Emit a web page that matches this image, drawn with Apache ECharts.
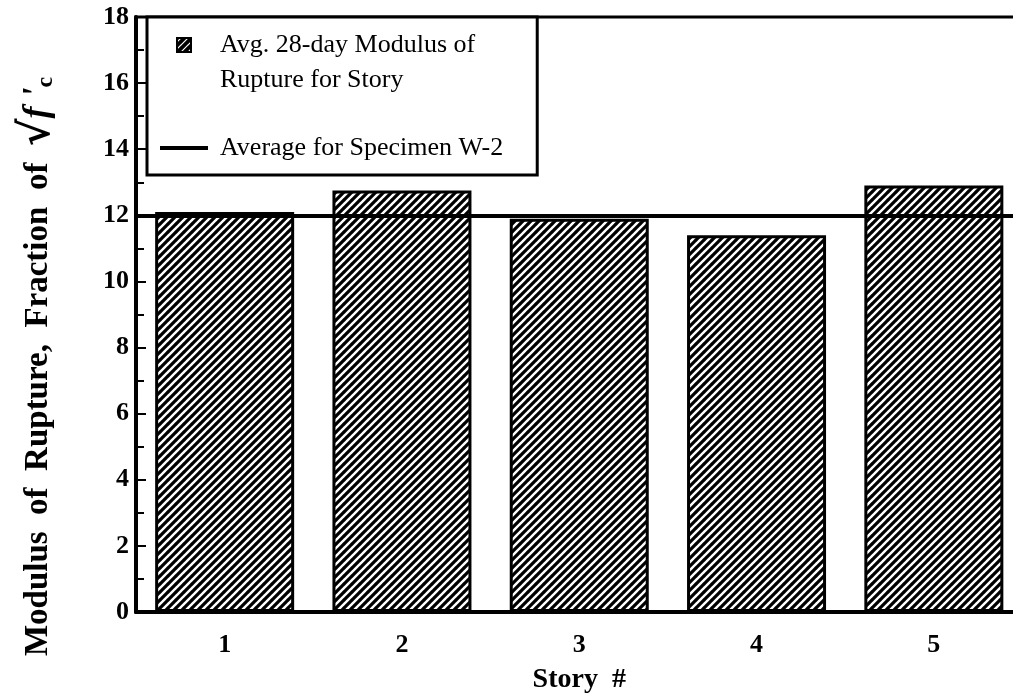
<!DOCTYPE html>
<html><head><meta charset="utf-8">
<script src="https://cdn.jsdelivr.net/npm/echarts@6/dist/echarts.min.js"></script>
<style>html,body{margin:0;padding:0;background:#fff}#c{width:1013px;height:698px}</style>
</head><body><div id="c"></div>
<script>
// ---- data ----
const categories = ['1', '2', '3', '4', '5'];
const storyModulus = [12.1, 12.75, 11.9, 11.4, 12.9];
const specimenAverage = 12.0;
const yMin = 0, yMax = 18, yInterval = 2;
const barSeriesName = 'Avg. 28-day Modulus of\nRupture for Story';
const lineSeriesName = 'Average for Specimen W-2';
const xTitle = 'Story  #';

// ---- styling helpers ----
const FONT = 'Liberation Serif';
function hatch(bg, fg, size, lw) {
  const c = document.createElement('canvas');
  c.width = c.height = size;
  const g = c.getContext('2d');
  g.fillStyle = bg; g.fillRect(0, 0, size, size);
  g.strokeStyle = fg; g.lineWidth = lw; g.lineCap = 'square';
  g.beginPath();
  for (const o of [-size, 0, size]) { g.moveTo(o, size); g.lineTo(o + size, 0); }
  g.stroke();
  return c;
}
const barPattern = { image: hatch('#fff', '#000', 8, 3.2), repeat: 'repeat' };
const iconPattern = { image: hatch('#000', '#fff', 7, 1.2), repeat: 'repeat' };

const chart = echarts.init(document.getElementById('c'), null, { renderer: 'canvas' });
chart.setOption({
  animation: false,
  backgroundColor: '#fff',
  grid: { left: 136, top: 17, width: 886.5, bottom: 86, show: true, borderColor: '#000', borderWidth: 3, containLabel: false, outerBoundsMode: 'none' },
  legend: {
    orient: 'vertical', left: 147, top: 17,
    padding: [-24.5, 34, 9.5, 13],
    itemWidth: 48, itemHeight: 14, itemGap: 33,
    borderColor: '#000', borderWidth: 3, backgroundColor: '#fff',
    selectedMode: false,
    textStyle: { fontFamily: FONT, fontSize: 26, color: '#000', lineHeight: 35, padding: [0, 0, 0, 7] },
    formatter: n => n === barSeriesName ? '\n' + n : n,
    data: [
      { name: barSeriesName, icon: 'path://M0,0L14,0L14,14L0,14Z', itemStyle: { color: iconPattern, borderColor: '#000', borderWidth: 2 } },
      { name: lineSeriesName, icon: 'path://M0,0L48,0L48,4L0,4Z', itemStyle: { color: '#000', borderWidth: 0 } }
    ]
  },
  xAxis: {
    type: 'category', data: categories, boundaryGap: true,
    axisLine: { lineStyle: { color: '#000', width: 4 } },
    axisTick: { inside: true, length: 6, interval: 0, lineStyle: { color: '#000', width: 2 } },
    axisLabel: { color: '#000', fontFamily: FONT, fontWeight: 'bold', fontSize: 26, margin: 20 },
    name: xTitle, nameLocation: 'middle', nameGap: 54,
    nameTextStyle: { color: '#000', fontFamily: FONT, fontWeight: 'bold', fontSize: 28 }
  },
  yAxis: {
    type: 'value', min: yMin, max: yMax, interval: yInterval,
    axisLine: { show: true, lineStyle: { color: '#000', width: 4 } },
    axisTick: { show: true, inside: true, length: 10, lineStyle: { color: '#000', width: 2 } },
    minorTick: { show: true, splitNumber: 2, length: 8, lineStyle: { color: '#000', width: 2 } },
    splitLine: { show: false },
    axisLabel: { color: '#000', fontFamily: FONT, fontWeight: 'bold', fontSize: 26, margin: 7 },
    name: '{a|Modulus  of  Rupture,  Fraction  of  }{r|√}{f|f \'}{c|c}',
    nameLocation: 'middle', nameGap: 77,
    nameTextStyle: {
      color: '#000', fontFamily: FONT, fontWeight: 'bold', fontSize: 33, padding: [0, 104, 0, 0],
      rich: {
        a: { fontFamily: FONT, fontWeight: 'bold', fontSize: 33, color: '#000' },
        r: { fontFamily: 'DejaVu Serif', fontWeight: 'bold', fontSize: 42, color: '#000' },
        f: { fontFamily: FONT, fontWeight: 'bold', fontStyle: 'italic', fontSize: 36, color: '#000' },
        c: { fontFamily: FONT, fontWeight: 'bold', fontSize: 24, color: '#000', padding: [16, 0, 0, 0] }
      }
    }
  },
  series: [
    {
      name: barSeriesName, type: 'bar', data: storyModulus, barWidth: 139,
      itemStyle: { color: barPattern, borderColor: '#000', borderWidth: 3 },
      z: 2
    },
    {
      name: lineSeriesName, type: 'line', data: [], symbol: 'none',
      itemStyle: { color: '#000' }, lineStyle: { color: '#000', width: 4 },
      z: 5,
      markLine: {
        silent: true, symbol: ['none', 'none'], label: { show: false },
        lineStyle: { color: '#000', width: 4, type: 'solid' },
        data: [{ yAxis: specimenAverage }]
      }
    }
  ]
});
</script></body></html>
